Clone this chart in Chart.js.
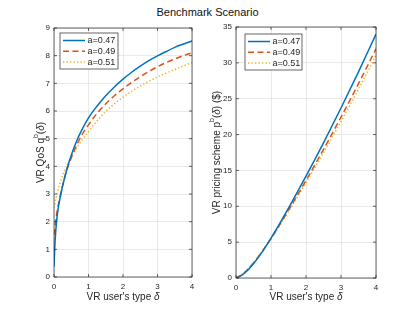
<!DOCTYPE html>
<html>
<head>
<meta charset="utf-8">
<script src="https://cdn.jsdelivr.net/npm/chart.js@4.4.1/dist/chart.umd.min.js"></script>
<style>
  body { margin: 0; background: #fff; width: 415px; height: 312px; position: relative; overflow: hidden; font-family: "Liberation Sans", Arial, sans-serif; }
  #title { position: absolute; top: 6px; left: 0; width: 415px; text-align: center; font-size: 11px; color: #111; }
  .box { position: absolute; top: 0; height: 312px; }
</style>
</head>
<body>
<div id="title">Benchmark Scenario</div>
<div class="box" style="left:0;width:205px"><canvas id="qos"></canvas></div>
<div class="box" style="left:205px;width:210px"><canvas id="price"></canvas></div>

<script>
// series names
const seriesLabels = ['a=0.47', 'a=0.49', 'a=0.51'];

// left panel: VR QoS q^b(delta)
const qosDelta = [0, 0.02, 0.05, 0.1, 0.2, 0.3, 0.4, 0.5, 0.65, 0.8, 1, 1.25, 1.5, 1.75, 2, 2.25, 2.5, 2.75, 3, 3.25, 3.5, 3.75, 4];
const qosA047 = [0.37, 1.0, 1.65, 2.3, 3.0, 3.55, 4.0, 4.4, 4.9, 5.3, 5.75, 6.18, 6.55, 6.87, 7.15, 7.4, 7.62, 7.82, 7.99, 8.15, 8.3, 8.42, 8.53];
const qosA049 = [1.52, 1.75, 2.05, 2.45, 3.05, 3.55, 3.97, 4.3, 4.75, 5.12, 5.5, 5.92, 6.26, 6.55, 6.8, 7.03, 7.24, 7.43, 7.6, 7.75, 7.88, 8.0, 8.1];
const qosA051 = [2.5, 2.62, 2.8, 3.07, 3.5, 3.82, 4.08, 4.32, 4.65, 4.93, 5.25, 5.65, 5.98, 6.26, 6.5, 6.71, 6.9, 7.07, 7.23, 7.37, 7.5, 7.63, 7.75];

// right panel: VR pricing scheme p^b(delta)
const priceDelta = [0, 0.1, 0.25, 0.5, 0.75, 1, 1.5, 2, 2.5, 3, 3.5, 4];
const priceA047 = [0, 0.2, 0.7, 2.0, 3.65, 5.55, 9.75, 14.2, 18.85, 23.7, 28.75, 34.0];
const priceA049 = [0, 0.25, 0.8, 2.1, 3.7, 5.5, 9.45, 13.6, 17.93, 22.43, 27.1, 31.95];
const priceA051 = [0, 0.3, 0.85, 2.15, 3.75, 5.45, 9.3, 13.3, 17.48, 21.83, 26.33, 31.0];

// tick labels
const deltaTicks = [0, 1, 2, 3, 4];
const qosTicks = [0, 1, 2, 3, 4, 5, 6, 7, 8, 9];
const priceTicks = [0, 5, 10, 15, 20, 25, 30, 35];

Chart.defaults.font.family = '"Liberation Sans", Arial, sans-serif';

const lineStyles = [
  { color: '#0072BD', dash: [] },
  { color: '#D95319', dash: [6, 3.5] },
  { color: '#EDB120', dash: [1.3, 2.2] }
];
const axisColor = '#262626';
const gridColor = '#e3e3e3';

function makeDatasets(xs, lists) {
  return lists.map((vals, i) => ({
    label: seriesLabels[i],
    data: xs.map((x, j) => ({ x: x, y: vals[j] })),
    borderColor: lineStyles[i].color,
    borderDash: lineStyles[i].dash,
    borderWidth: 1.5,
    pointRadius: 0,
    fill: false,
    cubicInterpolationMode: 'monotone'
  }));
}

function fontStr(p) {
  return (p.i ? 'italic ' : '') + (p.sup ? 7 : 10) + 'px "Liberation Sans", Arial, sans-serif';
}

function drawParts(ctx, parts, cx, cy) {
  let w = 0;
  parts.forEach(p => { ctx.font = fontStr(p); p.w = ctx.measureText(p.t).width; w += p.w; });
  let x = cx - w / 2;
  parts.forEach(p => {
    ctx.font = fontStr(p);
    ctx.fillText(p.t, x, cy + (p.sup ? -5 : 0));
    x += p.w;
  });
}

// box around the axes, inward ticks, axis titles and legend (matlab look)
const matlabLook = {
  id: 'matlabLook',
  afterDatasetsDraw(chart, args, opts) {
    const ctx = chart.ctx;
    const a = chart.chartArea;
    const xs = chart.scales.x, ys = chart.scales.y;
    ctx.save();
    ctx.strokeStyle = axisColor;
    ctx.lineWidth = 0.7;
    ctx.strokeRect(a.left, a.top, a.right - a.left, a.bottom - a.top);
    ctx.beginPath();
    xs.ticks.forEach(t => {
      const px = xs.getPixelForValue(t.value);
      ctx.moveTo(px, a.bottom); ctx.lineTo(px, a.bottom - 3);
      ctx.moveTo(px, a.top); ctx.lineTo(px, a.top + 3);
    });
    ys.ticks.forEach(t => {
      const py = ys.getPixelForValue(t.value);
      ctx.moveTo(a.left, py); ctx.lineTo(a.left + 3, py);
      ctx.moveTo(a.right, py); ctx.lineTo(a.right - 3, py);
    });
    ctx.stroke();
    ctx.restore();
  },
  afterDraw(chart, args, opts) {
    const ctx = chart.ctx;
    const a = chart.chartArea;
    ctx.save();
    ctx.fillStyle = axisColor;
    ctx.textBaseline = 'middle';
    drawParts(ctx, opts.xTitle, (a.left + a.right) / 2, 297);
    ctx.translate(opts.yTitleX, (a.top + a.bottom) / 2);
    ctx.rotate(-Math.PI / 2);
    drawParts(ctx, opts.yTitle, 0, 0);
    ctx.restore();

    // legend box
    const L = opts.legend;
    ctx.save();
    ctx.fillStyle = '#fff';
    ctx.fillRect(L.x, L.y, L.w, L.h);
    ctx.strokeStyle = axisColor;
    ctx.lineWidth = 0.7;
    ctx.strokeRect(L.x, L.y, L.w, L.h);
    chart.data.datasets.forEach((ds, i) => {
      const ry = L.y + 7.5 + i * 10.8;
      ctx.strokeStyle = ds.borderColor;
      ctx.setLineDash(ds.borderDash);
      ctx.lineWidth = 1.5;
      ctx.beginPath();
      ctx.moveTo(L.x + 3, ry);
      ctx.lineTo(L.x + 25, ry);
      ctx.stroke();
      ctx.setLineDash([]);
      ctx.fillStyle = axisColor;
      ctx.font = '9px "Liberation Sans", Arial, sans-serif';
      ctx.textBaseline = 'middle';
      ctx.fillText(ds.label, L.x + 27.5, ry);
    });
    ctx.restore();
  }
};

function axisOpts(min, max, ticks, size, isX) {
  return {
    type: 'linear',
    min: min,
    max: max,
    afterBuildTicks: s => { s.ticks = ticks.map(v => ({ value: v })); },
    afterFit: s => { if (isX) s.height = size; else s.width = size; },
    grid: { color: gridColor, lineWidth: 0.8, drawTicks: false },
    border: { display: false },
    ticks: { color: axisColor, font: { size: 8 }, padding: isX ? 5 : 4, maxRotation: 0, autoSkip: false }
  };
}

new Chart(document.getElementById('qos'), {
  type: 'line',
  data: { datasets: makeDatasets(qosDelta, [qosA047, qosA049, qosA051]) },
  options: {
    responsive: true,
    maintainAspectRatio: false,
    animation: false,
    layout: { padding: { left: 0, right: 13, top: 28, bottom: 0 } },
    scales: {
      x: axisOpts(0, 4, deltaTicks, 35, true),
      y: axisOpts(0, 9, qosTicks, 54, false)
    },
    plugins: {
      legend: { display: false },
      tooltip: { enabled: false },
      matlabLook: {
        xTitle: [{ t: "VR user's type " }, { t: 'δ', i: true }],
        yTitle: [{ t: 'VR QoS q' }, { t: 'b', sup: true }, { t: '(' }, { t: 'δ', i: true }, { t: ')' }],
        yTitleX: 41,
        legend: { x: 60, y: 33, w: 58, h: 36 }
      }
    }
  },
  plugins: [matlabLook]
});

new Chart(document.getElementById('price'), {
  type: 'line',
  data: { datasets: makeDatasets(priceDelta, [priceA047, priceA049, priceA051]) },
  options: {
    responsive: true,
    maintainAspectRatio: false,
    animation: false,
    layout: { padding: { left: 0, right: 39, top: 27, bottom: 0 } },
    scales: {
      x: axisOpts(0, 4, deltaTicks, 34, true),
      y: axisOpts(0, 35, priceTicks, 31, false)
    },
    plugins: {
      legend: { display: false },
      tooltip: { enabled: false },
      matlabLook: {
        xTitle: [{ t: "VR user's type " }, { t: 'δ', i: true }],
        yTitle: [{ t: 'VR pricing scheme p' }, { t: 'b', sup: true }, { t: '(' }, { t: 'δ', i: true }, { t: ') ($)' }],
        yTitleX: 12,
        legend: { x: 40, y: 34, w: 57, h: 36 }
      }
    }
  },
  plugins: [matlabLook]
});
</script>
</body>
</html>
